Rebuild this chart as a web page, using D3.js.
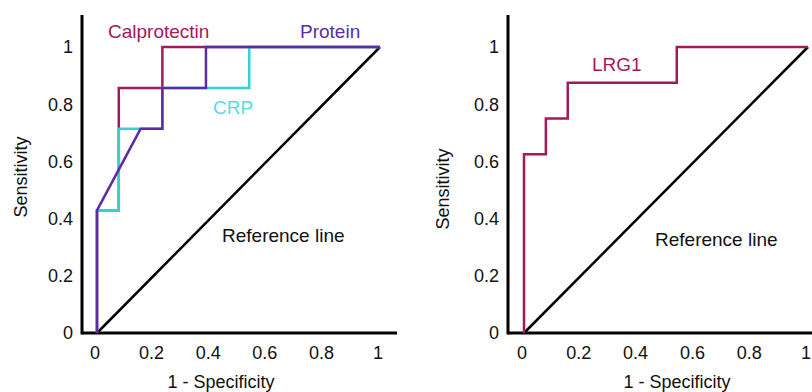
<!DOCTYPE html>
<html>
<head>
<meta charset="utf-8">
<script src="https://cdn.jsdelivr.net/npm/d3@7"></script>
<style>
  body { margin: 0; background: #fff; }
  svg { display: block; font-family: "Liberation Sans", Arial, sans-serif; }
</style>
</head>
<body>
<svg id="chart" width="812" height="392"></svg>
<script>
const ticks = [0, 0.2, 0.4, 0.6, 0.8, 1];
const tickLabels = ["0", "0.2", "0.4", "0.6", "0.8", "1"];

// ROC curves, [1 - specificity, sensitivity]
const calprotectin = [[0, 0], [0, 0.429], [0.077, 0.429], [0.077, 0.857], [0.231, 0.857], [0.231, 1], [1, 1]];
const crp = [[0, 0], [0, 0.429], [0.077, 0.429], [0.077, 0.714], [0.231, 0.714], [0.231, 0.857], [0.538, 0.857], [0.538, 1], [1, 1]];
const protein = [[0, 0], [0, 0.429], [0.154, 0.714], [0.231, 0.714], [0.231, 0.857], [0.385, 0.857], [0.385, 1], [1, 1]];
const lrg1 = [[0, 0], [0, 0.625], [0.077, 0.625], [0.077, 0.75], [0.154, 0.75], [0.154, 0.875], [0.538, 0.875], [0.538, 1], [1, 1]];
const refLine = [[0, 0], [1, 1]];

const CRIMSON = "#a3195b";
const PURPLE = "#5b2ca6";
const TURQ = "#33d3d3";

const svg = d3.select("#chart");

function drawPanel(opts) {
    const g = svg.append("g");
    const x = d3.scaleLinear().domain([0, 1]).range([opts.x0, opts.x1]);
    const y = d3.scaleLinear().domain([0, 1]).range([333, 47]);

    // axis lines
    g.append("line").attr("x1", opts.axisX).attr("x2", opts.axisX).attr("y1", 15).attr("y2", 334.5)
        .attr("stroke", "#000").attr("stroke-width", 3);
    g.append("line").attr("x1", opts.axisX).attr("x2", opts.axisEnd).attr("y1", 333).attr("y2", 333)
        .attr("stroke", "#000").attr("stroke-width", 3);

    // tick labels
    g.selectAll(".yt").data(ticks).join("text")
        .attr("x", opts.axisX - 9).attr("y", d => y(d)).attr("dy", "0.35em")
        .attr("text-anchor", "end").attr("font-size", 18).attr("fill", "#111")
        .text((d, i) => tickLabels[i]);
    g.selectAll(".xt").data(ticks).join("text")
        .attr("x", d => x(d) - 2).attr("y", 359)
        .attr("text-anchor", "middle").attr("font-size", 18).attr("fill", "#111")
        .text((d, i) => tickLabels[i]);

    // titles
    g.append("text").attr("x", opts.xTitle).attr("y", 388).attr("text-anchor", "middle")
        .attr("font-size", 18).attr("fill", "#111").text("1 - Specificity");
    g.append("text").attr("transform", `translate(${opts.yTitleX},${opts.yTitleY}) rotate(-90)`)
        .attr("text-anchor", "middle").attr("font-size", 18).attr("fill", "#111").text("Sensitivity");

    const line = d3.line().x(d => x(d[0])).y(d => y(d[1]));
    g.append("path").datum(refLine).attr("d", line).attr("fill", "none")
        .attr("stroke", "#000").attr("stroke-width", 2.5);

    opts.curves.forEach(c => {
        g.append("path").datum(c.data).attr("d", line).attr("fill", "none")
            .attr("stroke", c.color).attr("stroke-width", 2.5);
    });

    opts.labels.forEach(l => {
        g.append("text").attr("x", l.x).attr("y", l.y).attr("dy", "0.35em")
            .attr("font-size", 19).attr("fill", l.color).text(l.text);
    });
}

drawPanel({
    x0: 97, x1: 380, axisX: 82, axisEnd: 397,
    xTitle: 221, yTitleX: 27, yTitleY: 177,
    curves: [
        { data: calprotectin, color: CRIMSON },
        { data: crp, color: TURQ },
        { data: protein, color: PURPLE }
    ],
    labels: [
        { text: "Calprotectin", x: 108, y: 31, color: CRIMSON },
        { text: "Protein", x: 300, y: 31, color: PURPLE },
        { text: "CRP", x: 213, y: 107, color: "#55dede" },
        { text: "Reference line", x: 222, y: 235, color: "#111" }
    ]
});

drawPanel({
    x0: 524, x1: 808, axisX: 508, axisEnd: 812,
    xTitle: 677, yTitleX: 449, yTitleY: 189,
    curves: [{ data: lrg1, color: CRIMSON }],
    labels: [
        { text: "LRG1", x: 592, y: 64, color: CRIMSON },
        { text: "Reference line", x: 655, y: 239, color: "#111" }
    ]
});
</script>
</body>
</html>
